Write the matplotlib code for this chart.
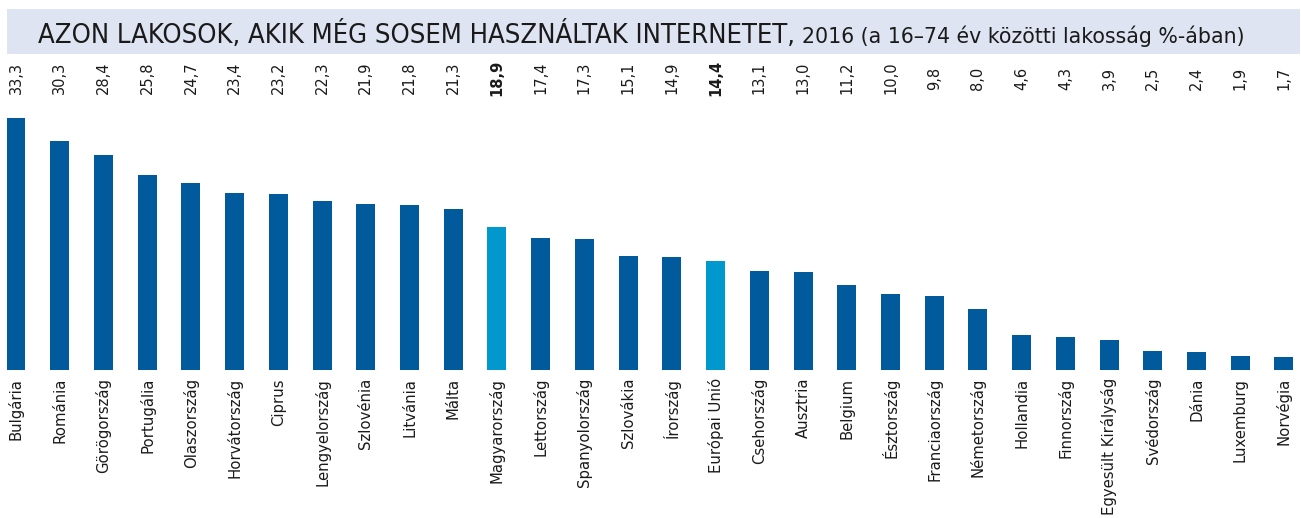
import matplotlib
matplotlib.use('Agg')
import matplotlib.pyplot as plt
import matplotlib.transforms as mtransforms
from matplotlib.patches import Rectangle

countries = [
    'Bulgária', 'Románia', 'Görögország', 'Portugália', 'Olaszország',
    'Horvátország', 'Ciprus', 'Lengyelország', 'Szlovénia', 'Litvánia',
    'Málta', 'Magyarország', 'Lettország', 'Spanyolország', 'Szlovákia',
    'Írország', 'Európai Unió', 'Csehország', 'Ausztria', 'Belgium',
    'Észtország', 'Franciaország', 'Németország', 'Hollandia', 'Finnország',
    'Egyesült Királyság', 'Svédország', 'Dánia', 'Luxemburg', 'Norvégia',
]
values = [
    33.3, 30.3, 28.4, 25.8, 24.7, 23.4, 23.2, 22.3, 21.9, 21.8,
    21.3, 18.9, 17.4, 17.3, 15.1, 14.9, 14.4, 13.1, 13.0, 11.2,
    10.0, 9.8, 8.0, 4.6, 4.3, 3.9, 2.5, 2.4, 1.9, 1.7,
]
highlight = ['Magyarország', 'Európai Unió']

title_main = 'AZON LAKOSOK, AKIK MÉG SOSEM HASZNÁLTAK INTERNETET,'
title_sub = '2016 (a 16–74 év közötti lakosság %-ában)'

C_BAR = '#005a9c'
C_HL = '#0098cd'
C_BAND = '#dfe4f2'
C_TEXT = '#1a1a1a'

W, H = 1301, 518
fig = plt.figure(figsize=(W / 100, H / 100), dpi=100)
fig.patch.set_facecolor('white')

n = len(countries)
first_px, last_px = 16, 1284
step = (last_px - first_px) / (n - 1)
base_px, top_px = 370, 60
unit_px = (370 - 118) / 33.3

ax = fig.add_axes([0, (H - base_px) / H, 1, (base_px - top_px) / H])
ax.set_xlim(-first_px / step, (n - 1) + (W - last_px) / step)
ax.set_ylim(0, (base_px - top_px) / unit_px)
ax.set_axis_off()

x = list(range(n))
colors = [C_HL if c in highlight else C_BAR for c in countries]
ax.bar(x, values, width=19 / step, color=colors)

trans = mtransforms.blended_transform_factory(ax.transData, fig.transFigure)
for i, (c, v) in enumerate(zip(countries, values)):
    ax.text(i, 1 - 78 / H, f'{v:.1f}'.replace('.', ','), transform=trans,
            rotation=90, ha='center', va='center', fontsize=10.5,
            color=C_TEXT, fontweight='bold' if c in highlight else 'normal')
    ax.text(i, 1 - 378 / H, c, transform=trans, rotation=90,
            ha='center', va='top', fontsize=10.7, color=C_TEXT)

# title band
fig.patches.append(Rectangle((7 / W, 1 - 54 / H), 1293 / W, 45 / H,
                             transform=fig.transFigure, facecolor=C_BAND,
                             edgecolor='none', zorder=0))
t1 = fig.text(38 / W, 1 - 43 / H, title_main, fontsize=19.6, color=C_TEXT,
              ha='left', va='baseline', fontstretch='condensed')
fig.canvas.draw()
bb = t1.get_window_extent()
fig.text((bb.x1 + 7) / W, 1 - 43 / H, title_sub, fontsize=14.8,
         color=C_TEXT, ha='left', va='baseline')

fig.savefig('out.png', dpi=100)
